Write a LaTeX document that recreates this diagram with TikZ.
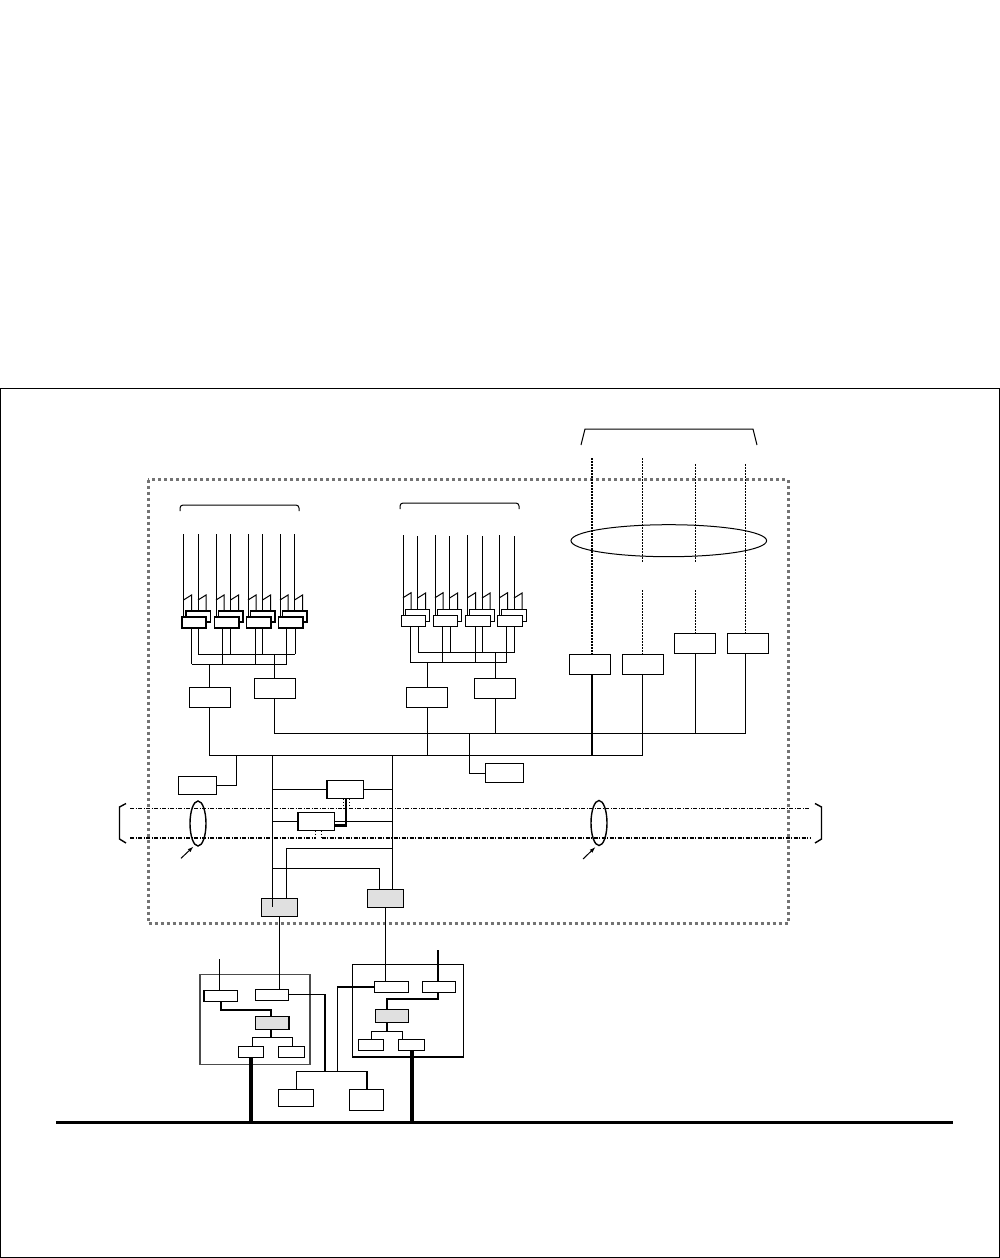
\documentclass[tikz,border=0pt]{standalone}
\usetikzlibrary{positioning}
\usetikzlibrary{calc}
\usetikzlibrary{shapes.geometric,arrows.meta}
\tikzset{
  unit/.style={draw,fill=white,line width=1pt,inner sep=0pt,outer sep=0pt,minimum width=41pt,minimum height=20pt},
  port/.style={unit,minimum width=24.5pt,minimum height=11.5pt},
  card/.style={unit,minimum width=33.5pt,minimum height=11pt},
  mid/.style={unit,minimum width=36.5pt,minimum height=18pt},
  shaded/.style={fill=black!12},
  heavy/.style={line width=1.5pt},
  wire/.style={line width=1pt},
  thickwire/.style={line width=2pt},
  trunk/.style={line width=4pt},
  dotline/.style={line width=1pt,dash pattern=on 1.5pt off 1.5pt},
  chain/.style={dash pattern=on 4pt off 1.5pt on 1pt off 1.5pt},
  ring/.style={draw,ellipse,inner sep=0pt,outer sep=0pt,line width=1.2pt}
}
\begin{document}
\begin{tikzpicture}[x=1pt,y=-1pt]
  \useasboundingbox (0,0) rectangle (1000,1258);
  \draw[line width=1pt] (0.5,388.5) rectangle (999.5,1257.5);
  \draw[line width=3pt,black!55,dash pattern=on 3pt off 3pt] (148,479.5) rectangle (788,923);

  \draw[wire] (581,445) -- (585,429) -- (753,429) -- (757,445);
  \draw[wire,rounded corners=3pt] (180,511) -- (180,505) -- (299,505) -- (299,511);
  \draw[wire,rounded corners=3pt] (400,509) -- (400,503) -- (519,503) -- (519,509);
  \draw[line width=1.4pt] (126,803.5) -- (119.5,807) -- (119.5,839) -- (126,843);
  \draw[line width=1.4pt] (815,803.5) -- (821.5,807) -- (821.5,839) -- (815,843);

  % left line group
  \foreach \i/\cx in {1/194,2/226.5,3/258.5,4/290.5} {
    \node[port,heavy,minimum height=11pt] (backl\i) at (\cx+4,616.5) {};
    \node[port,heavy,minimum height=11pt] (frontl\i) at (\cx,622.5) {};
  }
  \node[port,line width=2pt,minimum height=11pt] (frontl1) at (194,622.5) {};
  % right line group
  \foreach \i/\cx in {1/413.5,2/445.5,3/478,4/510} {
    \node[port] (backr\i) at (\cx+4,615.3) {};
    \node[port] (frontr\i) at (\cx,621) {};
  }
  \node[unit] (ctla) at (209.8,697.3) {};
  \node[unit] (ctlb) at (274.5,688.7) {};
  \node[unit] (ctlc) at (427,697.3) {};
  \node[unit] (ctld) at (495,688.7) {};
  \node[unit] (exta) at (590.2,664.5) {};
  \node[unit] (extb) at (643,664.5) {};
  \node[unit] (extc) at (695.2,643.5) {};
  \node[unit] (extd) at (748,643.5) {};
  \node[unit,minimum width=38pt,minimum height=18.5pt] (aux) at (197.5,785.3) {};
  \node[unit,minimum width=38pt,minimum height=18.5pt] (tap) at (504,773.2) {};
  \node[mid,heavy] (swa) at (345,789.7) {};
  \node[mid,heavy] (swb) at (316.3,821.5) {};
  \node[mid,shaded] (gwa) at (279.3,907.3) {};
  \node[mid,shaded] (gwb) at (385.3,898.3) {};

  \coordinate (raillowl) at (191.7,664.3);
  \coordinate (railhighl) at (198.3,654);
  \coordinate (raillowr) at (410.7,662.7);
  \coordinate (railhighr) at (418,652.7);
  \coordinate (busone) at (210,755.3);
  \coordinate (bustwo) at (274.7,733.3);
  \coordinate (stema) at (272.3,755.3);
  \coordinate (stemb) at (392.7,755.3);

  \foreach \i/\da/\db in {1/-2.3/4.3,2/-4.2/4.2,3/-2.8/4.2,4/-3.8/4.5} {
    \draw[wire] ([xshift=-10.5pt]frontl\i.north) -- ++(0,-83);
    \draw[wire] (backl\i.north) -- ++(0,-77);
    \draw[wire] ([xshift=-10.5pt]frontl\i.north) ++(0,-17) -- ++(8,-5) -- ++(0,16);
    \draw[wire] (backl\i.north) ++(0,-11) -- ++(8,-5) -- ++(0,16);
    \draw[wire] ([xshift=\da pt]frontl\i.south) -- ([xshift=\da pt]frontl\i.south |- raillowl);
    \draw[wire] ([xshift=\db pt]frontl\i.south) -- ([xshift=\db pt]frontl\i.south |- railhighl);
  }
  \foreach \i/\da/\db in {1/-2.8/4.5,2/-3.5/4.8,3/-2.7/4.3,4/-4/4.3} {
    \draw[wire] ([xshift=-10.5pt]frontr\i.north) -- ++(0,-80.5);
    \draw[wire] (backr\i.north) -- ++(0,-74);
    \draw[wire] ([xshift=-10.5pt]frontr\i.north) ++(0,-17.5) -- ++(8,-5) -- ++(0,16);
    \draw[wire] (backr\i.north) ++(0,-11.5) -- ++(8,-5) -- ++(0,16);
    \draw[wire] ([xshift=\da pt]frontr\i.south) -- ([xshift=\da pt]frontr\i.south |- raillowr);
    \draw[wire] ([xshift=\db pt]frontr\i.south) -- ([xshift=\db pt]frontr\i.south |- railhighr);
  }
  \draw[wire] (raillowl) -- ([xshift=-3.8pt]frontl4.south |- raillowl);
  \draw[wire] (railhighl) -- ([xshift=4.5pt]frontl4.south |- railhighl);
  \draw[wire] (raillowr) -- ([xshift=-4pt]frontr4.south |- raillowr);
  \draw[wire] (railhighr) -- ([xshift=4.3pt]frontr4.south |- railhighr);
  \draw[wire] (ctla.north) -- (ctla.north |- raillowl);
  \draw[wire] (ctlb.north) -- (ctlb.north |- railhighl);
  \draw[wire] (ctlc.north) -- (ctlc.north |- raillowr);
  \draw[wire] (ctld.north) -- (ctld.north |- railhighr);
  \draw[wire] (ctla.south) -- (ctla.south |- busone) -- ([xshift=-0.7pt]extb.south |- busone) -- ([xshift=-0.7pt]extb.south);
  \draw[wire] (ctlb.south) -- (ctlb.south |- bustwo) -- ([xshift=-2.7pt]extd.south |- bustwo) -- ([xshift=-2.7pt]extd.south);
  \draw[wire] (ctlc.south) -- (ctlc.south |- busone);
  \draw[wire] (ctld.south) -- (ctld.south |- bustwo);
  \draw[thickwire] ([xshift=1.8pt]exta.south) -- ([xshift=1.8pt]exta.south |- busone);
  \draw[wire] (extc.south) -- (extc.south |- bustwo);

  \coordinate (ringstop) at (0,458);
  \coordinate (ringstoplow) at (0,464);
  \draw[dotline,line width=1.8pt] ([xshift=1.8pt]exta.north) -- ([xshift=1.8pt]exta.north |- ringstop);
  \draw[dotline] (642.3,458) -- (642.3,563);
  \draw[dotline] ([xshift=-0.7pt]extb.north) -- ++(0,-64.5);
  \draw[dotline] (695.3,464) -- (695.3,562);
  \draw[dotline] (extc.north) -- ++(0,-43.5);
  \draw[dotline] ([xshift=-2.7pt]extd.north) -- ([xshift=-2.7pt]extd.north |- ringstoplow);
  \node[ring,line width=1pt,minimum width=195.6pt,minimum height=32pt] (ringtop) at (668.8,540.7) {};

  \draw[wire] (tap.west) -| (469.5,733.3);
  \draw[wire] (aux.east) -| (236.3,755.3);
  \draw[wire] (stema) -- ([xshift=-7pt]gwa.north |- gwa.west);
  \draw[wire] (stemb) -- ([xshift=7.4pt]gwb.north);
  \draw[wire] (swa.west) -- (swa.west -| stema);
  \draw[wire] (swa.east) -- (swa.east -| stemb);
  \draw[wire] (swb.west) -- (swb.west -| stema);
  \draw[wire] (swb.east) -- (swb.east -| stemb);
  \draw[line width=2.5pt] ([xshift=1pt]swa.south) |- ([yshift=-4pt]swb.east);
  \draw[dotline] ([xshift=-1.3pt]swa.south) -- ++(0,9.5);
  \draw[dotline] ([xshift=4.3pt]swa.south) -- ++(0,9.5);
  \draw[dotline] ([xshift=-0.6pt]swb.south) -- ++(0,8);
  \draw[dotline,line width=1.5pt] ([xshift=5.4pt]swb.south) -- ++(0,8);
  \draw[wire] ([xshift=6.7pt]gwa.north) |- (stemb |- 0,848.3);
  \draw[wire] ([xshift=-6pt]gwb.north) |- (stema |- 0,868);

  \draw[wire,chain] (130,808.3) -- (343.7,808.3);
  \draw[wire,chain] (349.3,808.3) -- (810,808.3);
  \draw[line width=1.8pt,chain] (130,838) -- (315.7,838);
  \draw[line width=1.8pt,chain] (321.7,838) -- (810,838);
  \node[ring,line width=1.4pt,minimum width=16pt,minimum height=45pt] (ringl) at (198,823.5) {};
  \node[ring,line width=1.4pt,minimum width=16pt,minimum height=45pt] (ringr) at (599,823) {};
  \coordinate (taill) at (181,858.3);
  \coordinate (tipl) at (193.5,846.5);
  \coordinate (tailr) at (583,859);
  \coordinate (tipr) at (595.5,847);
  \draw[wire,-{Latex[length=6pt,width=4pt]}] (taill) -- (tipl);
  \draw[wire,-{Latex[length=6pt,width=4pt]}] (tailr) -- (tipr);

  % lower panels
  \draw[line width=1.3pt,black!70] (200,974.7) rectangle (310,1064.3);
  \draw[line width=1.3pt] (352.3,964.3) rectangle (463.3,1057);
  \node[card,line width=1.3pt] (nodea) at (220.8,995.8) {};
  \node[card] (nodeb) at (272,994.8) {};
  \node[card,shaded,line width=1.3pt,minimum height=13pt] (nodec) at (272.2,1022.8) {};
  \node[card,line width=1.3pt,minimum width=25.5pt] (noded) at (251,1052.2) {};
  \node[card,line width=1.3pt,minimum width=26.5pt] (nodee) at (291.5,1052.2) {};
  \node[card,line width=1.3pt] (noder) at (391.5,987) {};
  \node[card] (nodes) at (439,987) {};
  \node[card,shaded,minimum height=13.5pt] (nodet) at (392,1016) {};
  \node[card,minimum width=25.5pt] (nodeu) at (371,1045.2) {};
  \node[card,line width=1.3pt,minimum width=26.5pt] (nodev) at (411.5,1045.2) {};
  \node[unit,minimum width=35pt,minimum height=17.5pt] (hosta) at (296.2,1098) {};
  \node[unit,minimum width=34.5pt,minimum height=21pt] (hostb) at (366.5,1099.8) {};

  \coordinate (baseline) at (56,1122.3);
  \coordinate (joina) at (296.7,1071.3);
  \coordinate (jointa) at (219.3,959);
  \coordinate (jointb) at (438,950);

  \draw[wire] (gwa.south) -- (gwa.south |- nodeb.north);
  \draw[wire] (gwb.south) -- (gwb.south |- noder.north);
  \draw[wire] (nodea.north -| jointa) -- (jointa);
  \draw[line width=1.6pt] (nodes.north -| jointb) -- (jointb);
  \draw[thickwire] (nodea.south) |- ([xshift=-1.2pt]nodec.north |- 0,1009.7) -- ([xshift=-1.2pt]nodec.north);
  \draw[thickwire] ([xshift=-1.2pt]nodec.south) -- ++(0,8.4);
  \draw[wire] ([xshift=1.3pt]noded.north) |- ([xshift=0.8pt]nodee.north |- 0,1037.7) -- ([xshift=0.8pt]nodee.north);
  \draw[thickwire] ([xshift=-1pt]nodes.south) |- ([xshift=-5pt]nodet.north |- 0,998.7) -- ([xshift=-5pt]nodet.north);
  \draw[thickwire] ([xshift=-5pt]nodet.south) -- ++(0,8.6);
  \draw[wire] ([xshift=0.3pt]nodeu.north) |- ([xshift=-9.2pt]nodev.north |- 0,1031.3) -- ([xshift=-9.2pt]nodev.north);
  \draw[line width=1.2pt] (nodeb.east) -| (325,1071.3);
  \draw[line width=1.2pt] (noder.west) -| (337.3,1071.3);
  \draw[wire] (hosta.north) -- (hosta.north |- joina) -- (367,1071.3);
  \draw[thickwire] (367,1071.3) -- (hostb.north -| 367,0);
  \draw[trunk] (noded.south) -- (noded.south |- baseline);
  \draw[trunk] (nodev.south) -- (nodev.south |- baseline);
  \draw[line width=3pt] (baseline) -- (953,1122.3);
\end{tikzpicture}
\end{document}
